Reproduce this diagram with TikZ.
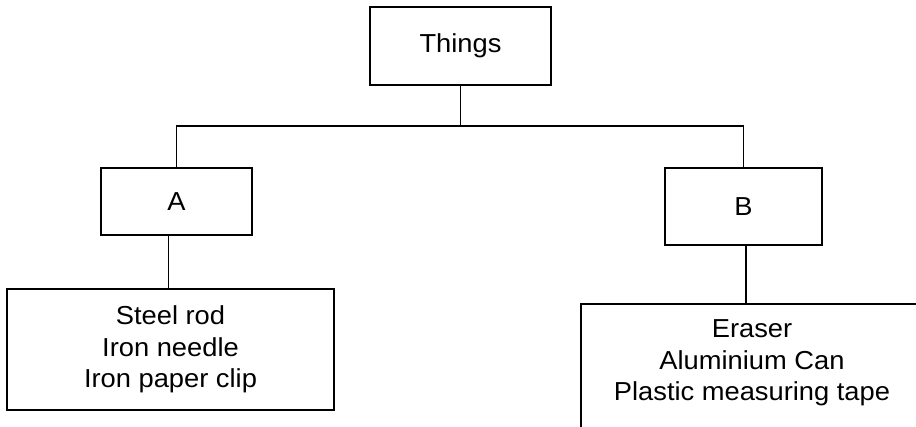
\documentclass[tikz,border=0pt]{standalone}
\usepackage{fontspec}
\setmainfont[FakeStretch=1.05]{Liberation Sans}
\begin{document}
\begin{tikzpicture}[x=1pt,y=-1pt,
  box/.style={draw=black,line width=1.6pt,rectangle,inner sep=0pt},
  conn/.style={draw=black,line width=1.6pt},
  lbl/.style={font=\fontsize{26}{31.5}\selectfont,align=center,inner sep=0pt}]
\useasboundingbox (0,0) rectangle (916,426);
\node[box,lbl,minimum width=181pt,minimum height=78pt] (things) at (460.5,46) {Things};
\node[box,lbl,minimum width=151pt,minimum height=67pt] (A) at (176.5,201.5) {A};
\node[box,lbl,minimum width=157pt,minimum height=77pt] (B) at (743.5,206.5) {B};
\node[box,lbl,minimum width=327pt,minimum height=121pt] (listA) at (170.5,349.5) {Steel rod\\Iron needle\\Iron paper clip};
\node[box,minimum width=420pt,minimum height=220pt] (listB) at (791,414) {};
\node[lbl] (listBtext) at (752,363) {Eraser\\Aluminium Can\\Plastic measuring tape};
\coordinate (bus) at (460.5,126);
\draw[conn] (things.south) -- (bus);
\draw[conn] (A.north) |- (bus) -| (B.north);
\draw[conn] ([xshift=-8pt]A.south) -- ([xshift=-8pt]A.south |- listA.north);
\draw[conn] ([xshift=2.5pt]B.south) -- ([xshift=2.5pt]B.south |- listB.north);
\end{tikzpicture}
\end{document}
